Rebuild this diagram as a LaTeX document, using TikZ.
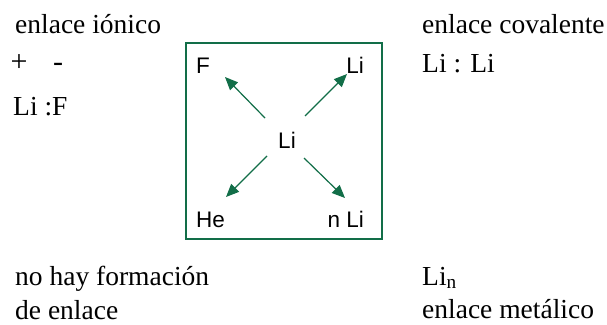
\documentclass[tikz,border=0pt]{standalone}
\usepackage{fontspec}
\setmainfont{Liberation Serif}
\setsansfont{Liberation Sans}
\usepackage{tikz}
\usetikzlibrary{arrows.meta,positioning}
\definecolor{bondgreen}{RGB}{18,110,72}

\begin{document}
\begin{tikzpicture}[
  x=1pt,y=-1pt,>={Triangle[length=13pt,width=11pt]},
  lbl/.style={inner sep=0pt,anchor=base west,font=\fontsize{27.5}{32}\selectfont},
  chg/.style={inner sep=0pt,anchor=base,font=\fontsize{30}{34}\selectfont},
  atom/.style={inner sep=0pt,font=\sffamily\fontsize{22.5}{26}\selectfont},
  arr/.style={->,draw=bondgreen,fill=bondgreen,line width=1.2pt}]
\useasboundingbox (0,0) rectangle (607,324);
\node[lbl] (ion) at (15,33) {enlace iónico};
\node[chg] (plus) at (19,71) {+};
\node[chg] (minus) at (58,71) {-};
\node[lbl] (lif) at (13,115) {Li :F};
\node[lbl] (cov) at (422,33) {enlace covalente};
\node[lbl] (lili) at (422,72) {Li : Li};
\node[lbl] (nohay) at (15,285) {no hay formación};
\node[lbl] (deenl) at (15,319) {de enlace};
\node[lbl] (lin) at (422,285) {Li\textsubscript{n}};
\node[lbl] (met) at (422,318) {enlace metálico};
\draw[bondgreen,line width=1.2pt] (186,43) rectangle (382,239);
\node[atom,anchor=base west] (f) at (196,73) {F};
\node[atom,anchor=base east] (li2) at (364,73) {Li};
\node[atom,anchor=base] (li) at (287,148) {Li};
\node[atom,anchor=base west] (he) at (196,227) {He};
\node[atom,anchor=base east] (nli) at (364,227) {n Li};
\coordinate (s1) at (265,118); \coordinate (e1) at (225,77);
\coordinate (s2) at (305,116); \coordinate (e2) at (347,74);
\coordinate (s3) at (267,156); \coordinate (e3) at (226,197);
\coordinate (s4) at (304,158); \coordinate (e4) at (345,198);
\draw[arr] (s1) -- (e1); \draw[arr] (s2) -- (e2);
\draw[arr] (s3) -- (e3); \draw[arr] (s4) -- (e4);
\end{tikzpicture}
\end{document}
